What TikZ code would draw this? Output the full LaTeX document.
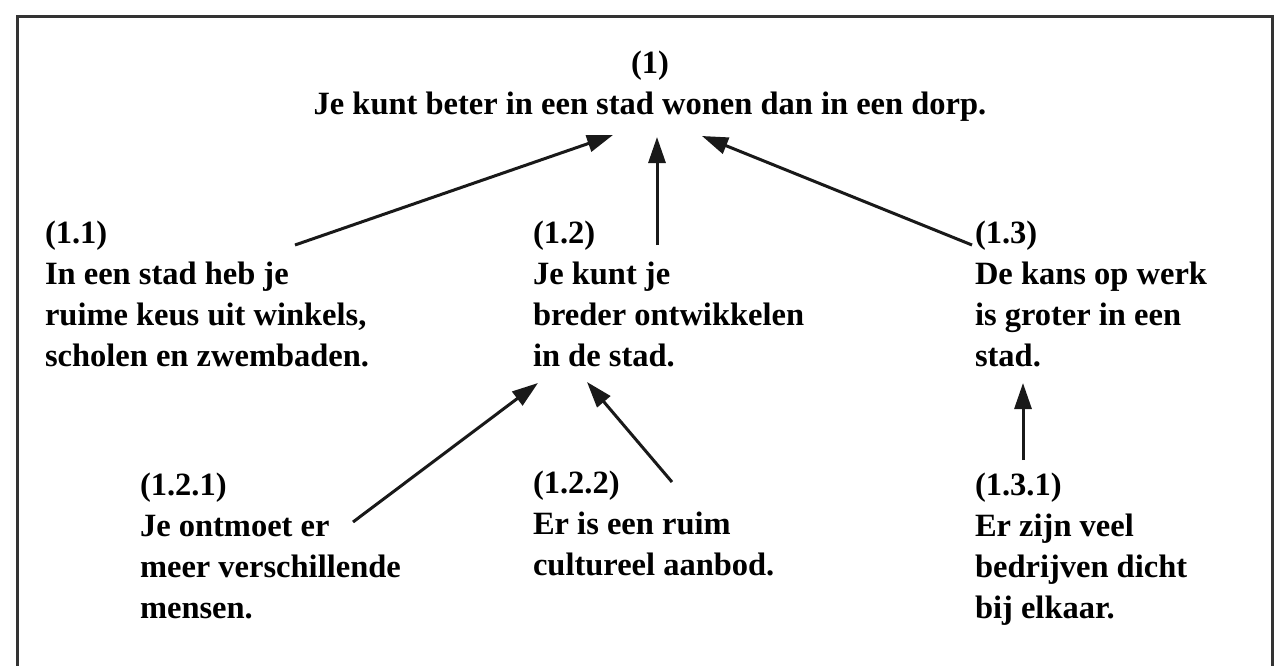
\documentclass[tikz,border=0pt]{standalone}
\usepackage{fontspec}
\setmainfont{Liberation Serif}
\usetikzlibrary{arrows.meta,calc}
\begin{document}
\begin{tikzpicture}[x=1pt,y=-1pt,
  blk/.style={inner sep=0pt, outer sep=0pt, align=left, anchor=north west,
    font=\fontsize{32.5}{41}\selectfont\bfseries, text=black},
  arr/.style={line width=3pt, draw=black!90, -{Triangle[length=26pt,width=17pt]}},
  frame/.style={line width=3pt, draw=black!80}]
\useasboundingbox (0,0) rectangle (1274,666);
\fill[white] (0,0) rectangle (1274,666);
\draw[frame] (17,666) -- (17,17) -- (1272,17) -- (1272,666);

\node[blk, align=center, anchor=north] (n1) at (650,51)
  {(1)\\Je kunt beter in een stad wonen dan in een dorp.};

\node[blk] (n11) at (45,221) {(1.1)\\In een stad heb je\\ruime keus uit winkels,\\scholen en zwembaden.};
\node[blk] (n12) at (533,221) {(1.2)\\Je kunt je\\breder ontwikkelen\\in de stad.};
\node[blk] (n13) at (975,221) {(1.3)\\De kans op werk\\is groter in een\\stad.};

\node[blk] (n121) at (140,473) {(1.2.1)\\Je ontmoet er\\meer verschillende\\mensen.};
\node[blk] (n122) at (533,471) {(1.2.2)\\Er is een ruim\\cultureel aanbod.};
\node[blk] (n131) at (975,473) {(1.3.1)\\Er zijn veel\\bedrijven dicht\\bij elkaar.};

\draw[arr] ($(n11.north west)+(250,24)$) -- ($(n1.north)+(-37,84)$);
\draw[arr] ($(n12.north west)+(124,24)$) -- ($(n1.north)+(7,86)$);
\draw[arr] ($(n13.north west)+(-3,24)$) -- ($(n1.north)+(52,85)$);
\draw[arr] ($(n121.north west)+(213,49)$) -- ($(n12.north west)+(5,162)$);
\draw[arr] ($(n122.north west)+(139,11)$) -- ($(n12.north west)+(54,161)$);
\draw[arr] ($(n131.north west)+(48,-13)$) -- ($(n13.north west)+(48,162)$);
\end{tikzpicture}
\end{document}
